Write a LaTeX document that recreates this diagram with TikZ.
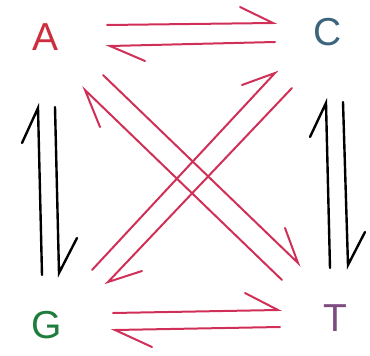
\documentclass[tikz,border=0pt]{standalone}
\usepackage{fontspec}
\setmainfont{Liberation Sans}
\definecolor{arrred}{RGB}{208,48,88}
\definecolor{colA}{RGB}{205,45,60}
\definecolor{colC}{RGB}{60,100,125}
\definecolor{colG}{RGB}{30,125,60}
\definecolor{colT}{RGB}{125,75,130}
\begin{document}
\begin{tikzpicture}[x=1pt,y=-1pt,
  letter/.style={font=\fontsize{39}{39}\selectfont, inner sep=0pt},
  redarr/.style={draw=arrred, line width=2pt, line join=miter, line cap=round},
  blkarr/.style={draw=black, line width=2.4pt, line join=miter, line cap=round}]
\useasboundingbox (0,0) rectangle (370,356);
% letters
\node[letter, text=colA] (A) at (46,37) {A};
\node[letter, text=colC] (C) at (328,32) {C};
\node[letter, text=colG] (G) at (47,325) {G};
\node[letter, text=colT] (T) at (335,318) {T};
% top pair
\coordinate (ac1) at (107,25); \coordinate (ac2) at (273,23); \coordinate (ac3) at (240,7);
\coordinate (ca1) at (275,42); \coordinate (ca2) at (110,46); \coordinate (ca3) at (145,61);
\draw[redarr] (ac1) -- (ac2) -- (ac3);
\draw[redarr] (ca1) -- (ca2) -- (ca3);
% bottom pair
\coordinate (gt1) at (113,313); \coordinate (gt2) at (278,310); \coordinate (gt3) at (245,293);
\coordinate (tg1) at (280,327); \coordinate (tg2) at (115,330); \coordinate (tg3) at (152,347);
\draw[redarr] (gt1) -- (gt2) -- (gt3);
\draw[redarr] (tg1) -- (tg2) -- (tg3);
% left pair
\coordinate (ga1) at (42,275); \coordinate (ga2) at (38,108); \coordinate (ga3) at (22,143);
\coordinate (ag1) at (55,107); \coordinate (ag2) at (59,273); \coordinate (ag3) at (77,238);
\draw[blkarr] (ga1) -- (ga2) -- (ga3);
\draw[blkarr] (ag1) -- (ag2) -- (ag3);
% right pair
\coordinate (tc1) at (330,268); \coordinate (tc2) at (326,103); \coordinate (tc3) at (310,137);
\coordinate (ct1) at (343,102); \coordinate (ct2) at (348,265); \coordinate (ct3) at (365,232);
\draw[blkarr] (tc1) -- (tc2) -- (tc3);
\draw[blkarr] (ct1) -- (ct2) -- (ct3);
% diagonals
\coordinate (at1) at (103,75); \coordinate (at2) at (298,263); \coordinate (at3) at (285,228);
\coordinate (ta1) at (282,280); \coordinate (ta2) at (85,90); \coordinate (ta3) at (100,127);
\coordinate (gc1) at (92,270); \coordinate (gc2) at (275,73); \coordinate (gc3) at (242,85);
\coordinate (cg1) at (292,88); \coordinate (cg2) at (108,282); \coordinate (cg3) at (142,271);
\draw[redarr] (at1) -- (at2) -- (at3);
\draw[redarr] (ta1) -- (ta2) -- (ta3);
\draw[redarr] (gc1) -- (gc2) -- (gc3);
\draw[redarr] (cg1) -- (cg2) -- (cg3);
\end{tikzpicture}
\end{document}
